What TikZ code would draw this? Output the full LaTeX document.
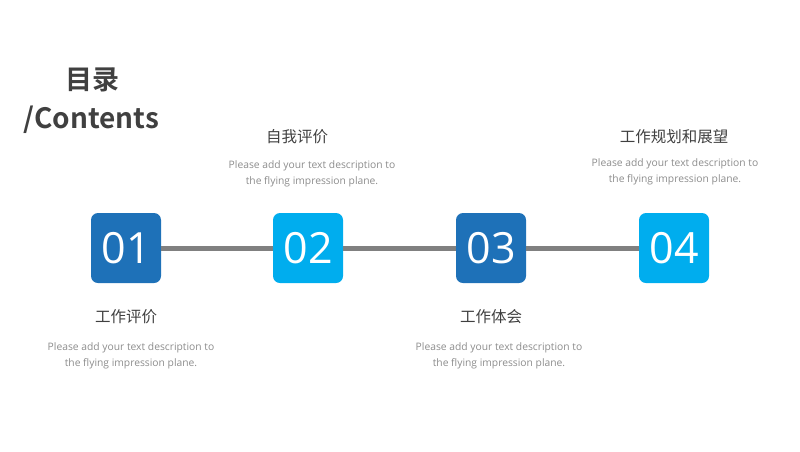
\documentclass[tikz,border=0pt]{standalone}
\usepackage{fontspec}
\setmainfont{Open Sans}
\newfontfamily\cjk{Noto Sans CJK SC}
\newfontfamily\cjkb{Noto Sans CJK SC Bold}
\definecolor{dblue}{HTML}{1E71B8}
\definecolor{lblue}{HTML}{00ADEE}
\definecolor{tgray}{HTML}{404040}
\definecolor{dgray}{HTML}{8C8C8C}
\definecolor{lgray}{HTML}{808080}
\tikzset{
  numbox/.style={rounded corners=7pt, minimum width=70pt, minimum height=70pt, inner sep=0pt, text=white, font=\fontsize{43}{43}\selectfont},
  ttl/.style={text=tgray, font=\cjk\fontsize{15.5}{18}\selectfont, inner sep=0pt},
  desc/.style={text=dgray, font=\fontsize{10.3}{16}\selectfont, align=center, inner sep=0pt},
}
\begin{document}
\begin{tikzpicture}[x=1pt,y=-1pt]
\useasboundingbox (0,0) rectangle (800,451);
\node[text=tgray, font=\cjkb\fontsize{27}{30}\selectfont, inner sep=0pt] (h1) at (92,80) {目录};
\node[text=tgray, font=\cjkb\fontsize{28}{30}\selectfont, inner sep=0pt] (h2) at (91.5,120) {/Contents};
\node[numbox, fill=dblue] (b1) at (126,248) {01};
\node[numbox, fill=lblue] (b2) at (308,248) {02};
\node[numbox, fill=dblue] (b3) at (491,248) {03};
\node[numbox, fill=lblue] (b4) at (674,248) {04};
\draw[line width=5pt, lgray] (b1.east) -- (b2.west);
\draw[line width=5pt, lgray] (b2.east) -- (b3.west);
\draw[line width=5pt, lgray] (b3.east) -- (b4.west);
\node[ttl] (t1) at (126,317) {工作评价};
\node[desc] (d1) at (131,356) {Please add your text description to\\the flying impression plane.};
\node[ttl] (t2) at (297,137) {自我评价};
\node[desc] (d2) at (312,174) {Please add your text description to\\the flying impression plane.};
\node[ttl] (t3) at (491,317) {工作体会};
\node[desc] (d3) at (499,356) {Please add your text description to\\the flying impression plane.};
\node[ttl] (t4) at (674,137) {工作规划和展望};
\node[desc] (d4) at (675,172) {Please add your text description to\\the flying impression plane.};
\end{tikzpicture}
\end{document}
